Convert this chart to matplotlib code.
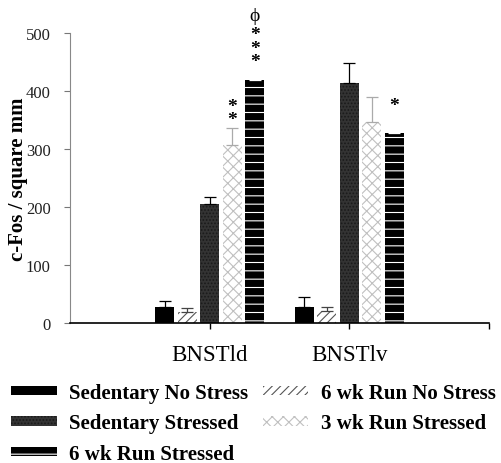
import numpy as np
import matplotlib
matplotlib.use("Agg")
import matplotlib.pyplot as plt

plt.rcParams['font.family'] = ['Liberation Serif', 'DejaVu Serif']
plt.rcParams['hatch.linewidth'] = 0.8

# c-Fos counts per square mm
regions = ['BNSTld', 'BNSTlv']
series = ['Sedentary No Stress', '6 wk Run No Stress', 'Sedentary Stressed',
          '3 wk Run Stressed', '6 wk Run Stressed']
sed_no_stress = [28, 27]
run6_no_stress = [19, 20]
sed_stressed = [205, 413]
run3_stressed = [307, 347]
run6_stressed = [419, 327]
sed_no_stress_err = [10, 18]
run6_no_stress_err = [7, 7]
sed_stressed_err = [13, 36]
run3_stressed_err = [30, 43]
run6_stressed_err = [12, 20]

means = [sed_no_stress, run6_no_stress, sed_stressed, run3_stressed, run6_stressed]
errs = [sed_no_stress_err, run6_no_stress_err, sed_stressed_err,
        run3_stressed_err, run6_stressed_err]

# (facecolor, hatch, hatch colour, errorbar colour)
styles = [
    ('black', None, 'black', 'black'),
    ('white', '////', '#555555', '#444444'),
    ('#333333', '.....', '#1a1a1a', 'black'),
    ('white', 'xxx', '#c0c0c0', '#aaaaaa'),
    ('black', '--', 'white', 'white'),
]

fig = plt.figure(figsize=(5.01, 4.64), dpi=100)
ax = fig.add_axes([70 / 501, 1 - 324 / 464, (489 - 70) / 501, (324 - 34) / 464])

centers = np.array([1.0, 2.0])
width = 0.136
step = 0.161
handles = []
for i, (vals, err, (fc, hatch, hc, ec)) in enumerate(zip(means, errs, styles)):
    x = centers + (i - 2) * step
    b = ax.bar(x, vals, width, color=fc, edgecolor=hc, hatch=hatch, linewidth=0,
               label=series[i], zorder=2)
    ax.errorbar(x, vals, yerr=[np.zeros(2), err], fmt='none', ecolor=ec,
                elinewidth=0.9, capsize=4, capthick=0.9, zorder=3)
    handles.append(b)

# significance marks
star = dict(ha='center', va='center', fontsize=14, fontweight='bold', linespacing=0.75)
x3 = centers[0] + 1 * step
x6 = centers[0] + 2 * step
ax.text(x3, 362, '*\n*', **star)
ax.text(x6, 474, '*\n*\n*', **star)
ax.text(x6, 530, 'ϕ', ha='center', va='center', fontsize=14, clip_on=False)
ax.text(centers[1] + 2 * step, 375, '*', **star)

ax.set_xlim(0, 3)
ax.set_ylim(0, 500)
ax.set_xticks([1, 2, 3])
ax.set_xticklabels(regions + [''], fontsize=16.5)
ax.set_yticks(range(0, 501, 100))
ax.tick_params(axis='y', labelsize=12, direction='out', length=4, color='#777777',
               labelcolor='#222222', pad=10)
ax.tick_params(axis='x', direction='out', length=4, width=1, pad=11)
ax.spines['top'].set_visible(False)
ax.spines['right'].set_visible(False)
ax.spines['left'].set_color('#888888')
ax.spines['left'].set_linewidth(0.8)
ax.spines['bottom'].set_linewidth(1.2)
ax.set_ylabel('c-Fos / square mm', fontsize=15, fontweight='bold')
ax.yaxis.set_label_coords(-42 / 419, 0.5)

order = [0, 2, 4, 1, 3]
fig.legend([handles[k] for k in order], [series[k] for k in order],
           loc='upper left', bbox_to_anchor=(11 / 501, 1 - 384 / 464), ncol=2,
           frameon=False, borderpad=0, borderaxespad=0,
           prop={'size': 15, 'weight': 'bold'}, handlelength=2.2, handleheight=0.3,
           columnspacing=0.7, labelspacing=0.5, handletextpad=0.58)

fig.savefig('out.png', dpi=100)
